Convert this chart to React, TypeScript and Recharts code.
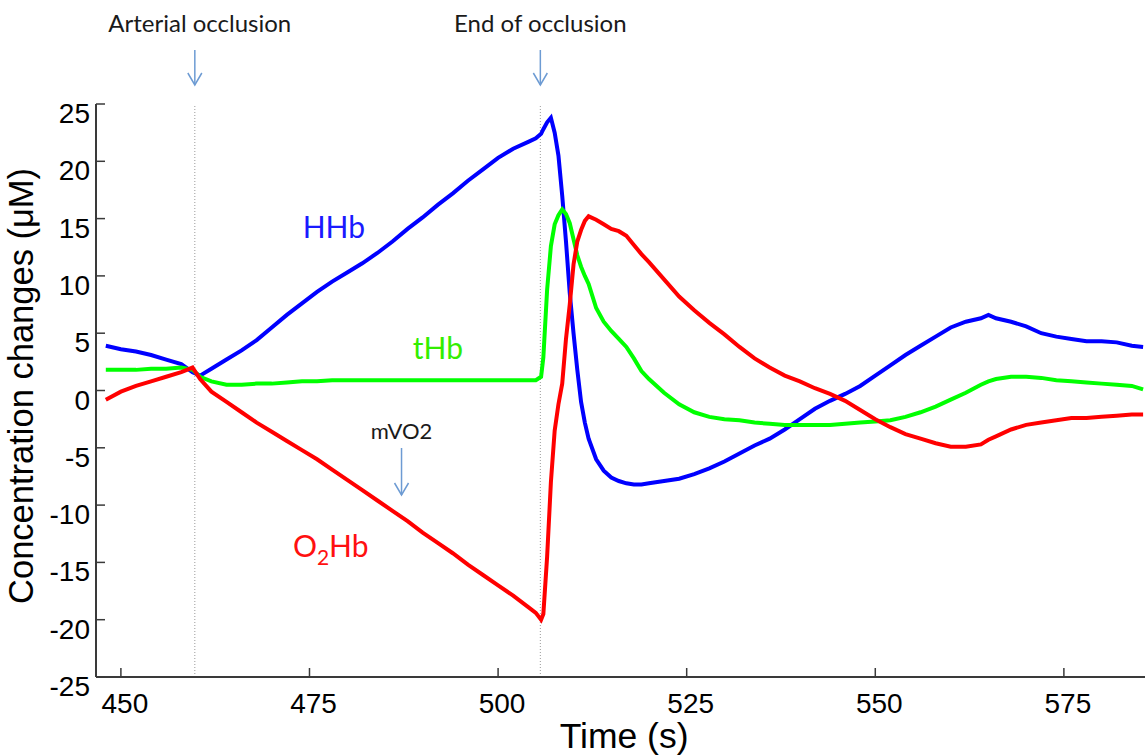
import React from 'react';
import { LineChart, Line, XAxis, YAxis, ReferenceLine } from 'recharts';

// time (s)
const times = [
  448, 450, 452, 454, 456, 458, 459.5, 460.5, 462, 464,
  466, 468, 470, 472, 474, 476, 478, 480, 482, 484,
  486, 488, 490, 492, 494, 496, 498, 500, 502, 504,
  505, 505.7, 506, 506.5, 507, 507.5, 508, 508.5, 509, 509.5,
  510, 510.5, 511, 511.5, 512, 513, 514, 515, 516, 517,
  518, 519, 520, 522, 524, 526, 528, 530, 532, 534,
  536, 538, 540, 542, 544, 546, 548, 550, 552, 554,
  556, 558, 560, 562, 564, 565, 566, 568, 570, 572,
  574, 576, 578, 580, 582, 584, 585.5,
];

const hhb = [
  3.9, 3.6, 3.4, 3.1, 2.7, 2.3, 1.6, 1.3, 1.9, 2.7,
  3.5, 4.4, 5.5, 6.6, 7.6, 8.6, 9.5, 10.3, 11.1, 12.0,
  13.0, 14.1, 15.1, 16.2, 17.2, 18.3, 19.3, 20.3, 21.1, 21.7,
  22.0, 22.4, 22.8, 23.4, 23.8, 22.5, 20.5, 17.0, 13.0, 8.5,
  5.0, 1.8, -1.0, -2.8, -4.2, -6.0, -7.0, -7.6, -7.9, -8.1,
  -8.2, -8.2, -8.1, -7.9, -7.7, -7.3, -6.8, -6.2, -5.5, -4.8,
  -4.2, -3.4, -2.5, -1.6, -0.9, -0.3, 0.4, 1.3, 2.2, 3.1,
  3.9, 4.7, 5.5, 6.0, 6.3, 6.6, 6.3, 6.0, 5.6, 5.0,
  4.7, 4.5, 4.3, 4.3, 4.2, 3.9, 3.8,
];

const thb = [
  1.8, 1.8, 1.8, 1.9, 1.9, 2.0, 1.8, 1.2, 0.8, 0.5,
  0.5, 0.6, 0.6, 0.7, 0.8, 0.8, 0.9, 0.9, 0.9, 0.9,
  0.9, 0.9, 0.9, 0.9, 0.9, 0.9, 0.9, 0.9, 0.9, 0.9,
  0.9, 1.2, 2.9, 8.8, 12.6, 14.5, 15.3, 15.8, 15.4, 14.6,
  13.2, 11.8, 10.8, 10.0, 9.3, 7.2, 6.0, 5.2, 4.5, 3.8,
  2.8, 1.7, 1.0, -0.2, -1.2, -1.9, -2.3, -2.5, -2.6, -2.8,
  -2.9, -3.0, -3.0, -3.0, -3.0, -2.9, -2.8, -2.7, -2.6, -2.3,
  -1.9, -1.4, -0.8, -0.2, 0.5, 0.8, 1.0, 1.2, 1.2, 1.1,
  0.9, 0.8, 0.7, 0.6, 0.5, 0.4, 0.1,
];

const o2hb = [
  -0.8, -0.1, 0.4, 0.8, 1.2, 1.6, 2.0, 1.0, -0.1, -1.0,
  -1.9, -2.8, -3.6, -4.4, -5.2, -6.0, -6.9, -7.8, -8.7, -9.6,
  -10.5, -11.4, -12.4, -13.3, -14.2, -15.2, -16.1, -17.0, -17.9, -18.9,
  -19.4, -20.0, -19.5, -14.5, -8.0, -3.5, -1.2, 0.6, 4.5, 7.5,
  11.0, 13.0, 14.0, 14.8, 15.2, 14.9, 14.5, 14.1, 13.9, 13.5,
  12.7, 11.9, 11.2, 9.7, 8.2, 7.0, 5.9, 4.9, 3.8, 2.8,
  2.0, 1.3, 0.8, 0.2, -0.3, -0.9, -1.7, -2.5, -3.2, -3.8,
  -4.2, -4.6, -4.9, -4.9, -4.7, -4.3, -4.0, -3.4, -3.0, -2.8,
  -2.6, -2.4, -2.4, -2.3, -2.2, -2.1, -2.1,
];

const xTicks = [450, 475, 500, 525, 550, 575];
const yTicks = [-25, -20, -15, -10, -5, 0, 5, 10, 15, 20, 25];
const occlusionStart = 459.8;
const occlusionEnd = 505.6;

const data = times.map((t, i) => ({ t, hhb: hhb[i], thb: thb[i], o2hb: o2hb[i] }));

// layout
const W = 1148;
const H = 755;
const LEFT = 96;
const TOP = 104;
const BOTTOM = 78;
const X_DOMAIN: [number, number] = [446.7, 586.15];
const Y_DOMAIN: [number, number] = [-25, 25];
const plotW = W - LEFT;
const plotH = H - TOP - BOTTOM;
const px = (t: number) => LEFT + ((t - X_DOMAIN[0]) / (X_DOMAIN[1] - X_DOMAIN[0])) * plotW;
const py = (v: number) => TOP + ((Y_DOMAIN[1] - v) / (Y_DOMAIN[1] - Y_DOMAIN[0])) * plotH;

const TICK_FONT = '"Liberation Sans", Arial, sans-serif';
const NOTE_FONT = 'Lato, "Open Sans", sans-serif';
const AXIS_COLOR = '#3a3a3a';
const ARROW_COLOR = '#6d9bd3';

const LeftTick = (props: any) => {
  const { x, y, payload } = props;
  return (
    <g>
      <line x1={x} x2={x + 9} y1={y} y2={y} stroke={AXIS_COLOR} strokeWidth={1.5} />
      <text x={x - 6} y={y + 19} textAnchor="end" fontSize={28} fontFamily={TICK_FONT} fill="#000">
        {payload.value}
      </text>
    </g>
  );
};

const RightTick = (props: any) => {
  const { x, y } = props;
  return <line x1={x} x2={x - 9} y1={y} y2={y} stroke={AXIS_COLOR} strokeWidth={1.5} />;
};

const BottomTick = (props: any) => {
  const { x, y, payload } = props;
  return (
    <g>
      <line x1={x} x2={x} y1={y} y2={y - 9} stroke={AXIS_COLOR} strokeWidth={1.5} />
      <text x={x + 4} y={y + 36} textAnchor="middle" fontSize={28} fontFamily={TICK_FONT} fill="#000">
        {payload.value}
      </text>
    </g>
  );
};

const TopTick = (props: any) => {
  const { x, y } = props;
  return <line x1={x} x2={x} y1={y} y2={y + 9} stroke={AXIS_COLOR} strokeWidth={1.5} />;
};

const Arrow = ({ x, y1, y2 }: { x: number; y1: number; y2: number }) => (
  <g stroke={ARROW_COLOR} strokeWidth={1.5} fill="none">
    <line x1={x} x2={x} y1={y1} y2={y2} />
    <polyline points={`${x - 7},${y2 - 12} ${x},${y2} ${x + 7},${y2 - 12}`} />
  </g>
);

export default function App() {
  return (
    <div style={{ position: 'relative', width: 1145, height: 755, overflow: 'hidden', background: '#fff' }}>
      <style>{'body{margin:0}'}</style>
      <LineChart width={W} height={H} data={data} margin={{ top: TOP, right: 0, bottom: 0, left: 0 }}>
        <XAxis
          dataKey="t"
          type="number"
          domain={X_DOMAIN}
          allowDataOverflow
          ticks={xTicks}
          interval={0}
          height={BOTTOM}
          tickSize={0}
          tickMargin={0}
          tick={BottomTick}
          axisLine={{ stroke: AXIS_COLOR, strokeWidth: 2 }}
        />
        <XAxis
          xAxisId="top"
          orientation="top"
          dataKey="t"
          type="number"
          domain={X_DOMAIN}
          allowDataOverflow
          ticks={xTicks}
          interval={0}
          height={0}
          tickSize={0}
          tickMargin={0}
          tick={TopTick}
          axisLine={{ stroke: AXIS_COLOR, strokeWidth: 2 }}
        />
        <YAxis
          type="number"
          domain={Y_DOMAIN}
          ticks={yTicks}
          interval={0}
          width={LEFT}
          tickSize={0}
          tickMargin={0}
          tick={LeftTick}
          axisLine={{ stroke: AXIS_COLOR, strokeWidth: 2 }}
        />
        <YAxis
          yAxisId="right"
          orientation="right"
          type="number"
          domain={Y_DOMAIN}
          ticks={yTicks}
          interval={0}
          width={0}
          tickSize={0}
          tickMargin={0}
          tick={RightTick}
          axisLine={{ stroke: AXIS_COLOR, strokeWidth: 2 }}
        />
        <ReferenceLine x={occlusionStart} stroke="#9a9a9a" strokeDasharray="1 2" strokeWidth={1} />
        <ReferenceLine x={occlusionEnd} stroke="#9a9a9a" strokeDasharray="1 2" strokeWidth={1} />
        <Line type="linear" dataKey="hhb" stroke="#0000ff" strokeWidth={4} dot={false} isAnimationActive={false} />
        <Line type="linear" dataKey="thb" stroke="#00ff00" strokeWidth={4} dot={false} isAnimationActive={false} />
        <Line type="linear" dataKey="o2hb" stroke="#ff0000" strokeWidth={4} dot={false} isAnimationActive={false} />
      </LineChart>

      <svg
        width={1145}
        height={755}
        style={{ position: 'absolute', left: 0, top: 0, pointerEvents: 'none' }}
      >
        <text
          transform={`translate(33, ${py(0.4)}) rotate(-90)`}
          textAnchor="middle"
          fontSize={34.5}
          fontFamily={TICK_FONT}
          fill="#000"
        >
          Concentration changes (μM)
        </text>
        <text x={px(516.7)} y={748} textAnchor="middle" fontSize={35.5} fontFamily={TICK_FONT} fill="#000">
          Time (s)
        </text>

        <text x={px(occlusionStart) + 5} y={32} textAnchor="middle" fontSize={24} fontFamily={NOTE_FONT} fill="#1a1a1a">
          Arterial occlusion
        </text>
        <Arrow x={px(occlusionStart)} y1={50} y2={85} />
        <text x={px(occlusionEnd)} y={32} textAnchor="middle" fontSize={24} fontFamily={NOTE_FONT} fill="#1a1a1a">
          End of occlusion
        </text>
        <Arrow x={px(occlusionEnd)} y1={50} y2={85} />

        <text x={px(487.2)} y={439} textAnchor="middle" fontSize={22} fontFamily={NOTE_FONT} fill="#1a1a1a">
          mVO2
        </text>
        <Arrow x={px(487.2)} y1={448} y2={495} />

        <text x={px(474.1)} y={238} fontSize={30} fontFamily={NOTE_FONT} fill="#1a1aff">
          HHb
        </text>
        <text x={px(488.7)} y={359} fontSize={30} fontFamily={NOTE_FONT} fill="#33ee00">
          tHb
        </text>
        <text x={px(472.8)} y={557} fontSize={30} fontFamily={NOTE_FONT} fill="#ff1010">
          O<tspan dy={8} fontSize={21}>2</tspan>
          <tspan dy={-8}>Hb</tspan>
        </text>
      </svg>
    </div>
  );
}
